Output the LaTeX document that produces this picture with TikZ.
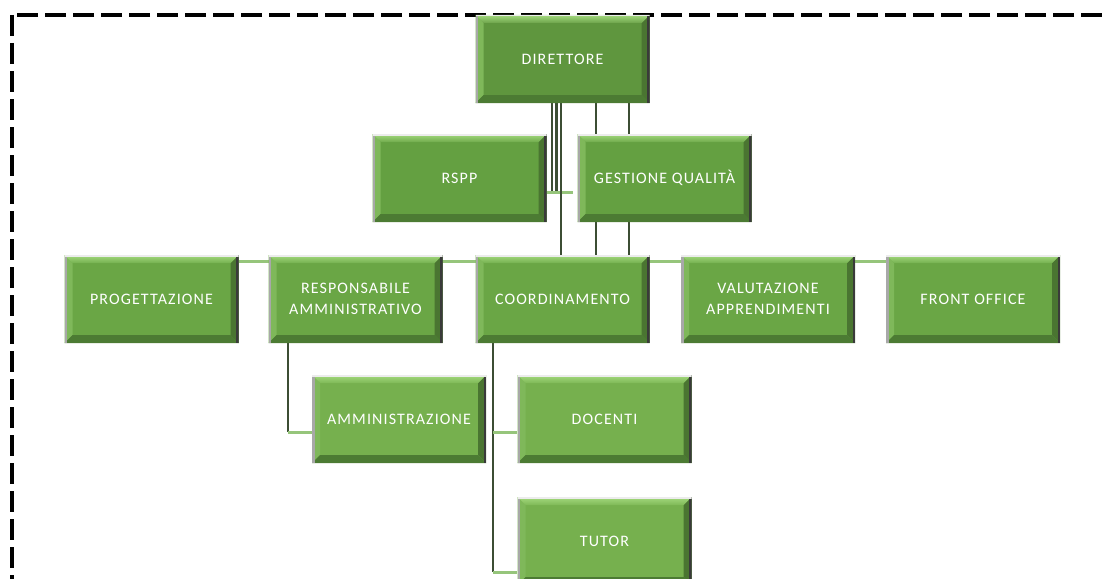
\documentclass[tikz,border=0pt]{standalone}
\usepackage{fontspec}
\setmainfont{Carlito}[LetterSpace=7]
\usetikzlibrary{backgrounds}
\definecolor{rowa}{HTML}{5F963E}
\definecolor{rowb}{HTML}{64A041}
\definecolor{rowc}{HTML}{6AA645}
\definecolor{rowd}{HTML}{76B04E}
\definecolor{bevtop}{HTML}{A4DA7E}
\definecolor{bevleft}{HTML}{7FB85A}
\definecolor{bevright}{HTML}{4A7531}
\definecolor{bevbot}{HTML}{4C7B33}
\definecolor{edgeleft}{HTML}{A8A8A8}
\definecolor{edgeright}{HTML}{3A3A3A}
\definecolor{vline}{HTML}{3C4E34}
\definecolor{hline}{HTML}{96C57B}
\begin{document}
\begin{tikzpicture}[x=1pt,y=-1pt,
  box/.style={minimum width=174pt, minimum height=88pt, inner sep=0pt,
    text=white, align=center, font=\fontsize{16}{21}\selectfont,
    path picture={
      \path (path picture bounding box.north west) coordinate (bnw)
            (path picture bounding box.north east) coordinate (bne)
            (path picture bounding box.south west) coordinate (bsw)
            (path picture bounding box.south east) coordinate (bse);
      \fill[#1] (bsw) rectangle (bne);
      \fill[bevleft] (bnw) -- (bsw) -- ([shift={(8pt,8pt)}]bsw) -- ([shift={(8pt,-8pt)}]bnw) -- cycle;
      \fill[bevright] (bne) -- (bse) -- ([shift={(-8pt,8pt)}]bse) -- ([shift={(-8pt,-8pt)}]bne) -- cycle;
      \shade[top color=bevtop, bottom color=#1!80!bevtop] (bnw) -- (bne) -- ([shift={(-8pt,-8pt)}]bne) -- ([shift={(8pt,-8pt)}]bnw) -- cycle;
      \fill[bevbot] (bsw) -- (bse) -- ([shift={(-8pt,8pt)}]bse) -- ([shift={(8pt,8pt)}]bsw) -- cycle;
      \fill[edgeleft] (bsw) rectangle ([shift={(2.5pt,0pt)}]bnw);
      \fill[edgeright] (bse) rectangle ([shift={(-2.5pt,0pt)}]bne);
      \fill[white!85!gray] (bnw) rectangle ([shift={(0pt,-1.5pt)}]bne);
    }},
  vconn/.style={draw=vline, line width=2.6pt},
  hconn/.style={draw=hline, line width=3pt},
  frame/.style={draw=black, line width=3.6pt, dash pattern=on 21pt off 7pt}
]
\useasboundingbox (0,0) rectangle (1102,578);
\draw[frame] (12,15) rectangle (1120,600);

\node[box=rowa] (dir) at (562.5,59) {DIRETTORE};
\node[box=rowb] (rspp) at (459.5,178) {RSPP};
\node[box=rowb] (gq) at (664.5,178) {GESTIONE QUALITÀ};
\node[box=rowc] (prog) at (151.5,299) {PROGETTAZIONE};
\node[box=rowc] (resp) at (355.5,299) {RESPONSABILE\\AMMINISTRATIVO};
\node[box=rowc] (coord) at (562.5,299) {COORDINAMENTO};
\node[box=rowc] (val) at (768,299) {VALUTAZIONE\\APPRENDIMENTI};
\node[box=rowc] (front) at (973,299) {FRONT OFFICE};
\node[box=rowd] (amm) at (399,419) {AMMINISTRAZIONE};
\node[box=rowd] (doc) at (604.5,419) {DOCENTI};
\node[box=rowd] (tutor) at (604.5,541) {TUTOR};

\coordinate (ja) at (552,192);
\coordinate (jb) at (556.5,192);
\coordinate (jc) at (561,0);
\coordinate (jd) at (596,0);
\coordinate (je) at (629,0);
\coordinate (hr) at (0,261);
\coordinate (ka) at (288,432);
\coordinate (kb) at (493,432);
\coordinate (kc) at (493,572);

\begin{scope}[on background layer]
  \draw[hconn] (prog.east |- hr) -- (front.west |- hr);
  \draw[vconn] (dir.south -| ja) -- (ja);
  \draw[vconn] (dir.south -| jb) -- (jb);
  \draw[hconn] (rspp.east |- ja) -- ([xshift=-4pt]gq.west |- ja);
  \draw[vconn] (dir.south -| jc) -- (coord.north -| jc);
  \draw[vconn] (dir.south -| jd) -- (coord.north -| jd);
  \draw[vconn] (dir.south -| je) -- (coord.north -| je);
  \draw[vconn] (resp.south -| ka) -- (ka);
  \draw[hconn] (ka) -- (amm.west |- ka);
  \draw[vconn] (coord.south -| kb) -- (kc);
  \draw[hconn] (kb) -- (doc.west |- kb);
  \draw[hconn] (kc) -- (tutor.west |- kc);
\end{scope}
\end{tikzpicture}
\end{document}
